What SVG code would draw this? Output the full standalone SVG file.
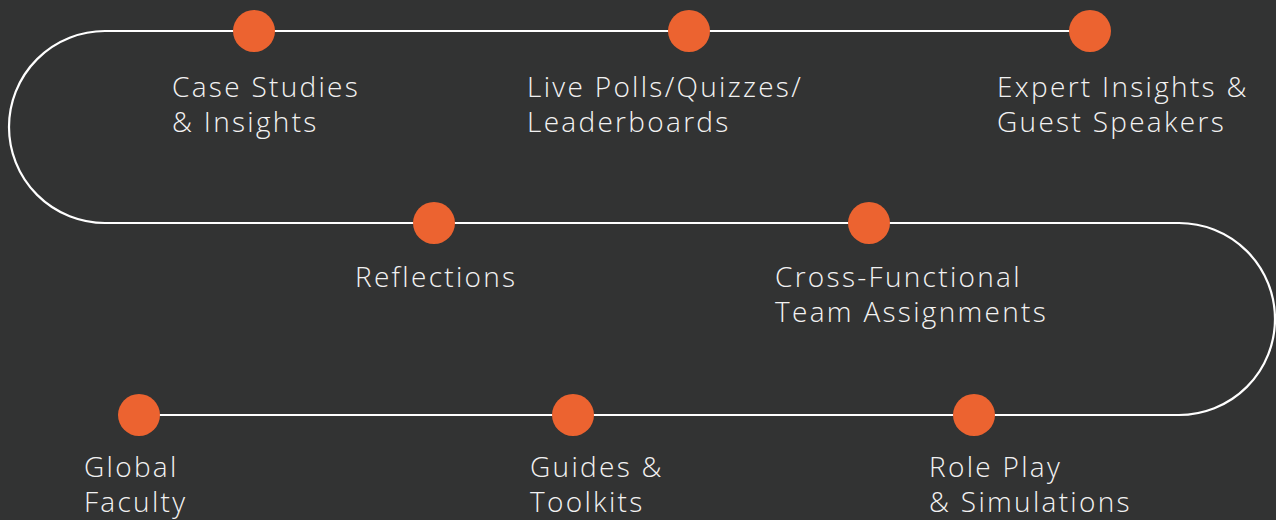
<svg xmlns="http://www.w3.org/2000/svg" width="1276" height="520" viewBox="0 0 1276 520">
<style>
.bg{fill:#323333}
.track{fill:none;stroke:#ffffff;stroke-width:2.2}
.dot{fill:#EC6330}
.lbl{fill:#F2F2F2;font-family:"Open Sans","Liberation Sans",sans-serif;font-weight:300;font-size:28px;letter-spacing:2.3px}
</style>
<rect class="bg" x="0" y="0" width="1276" height="520"/>
<g id="connectors">
<path class="track" d="M1090,31 H105 A96,96 0 0 0 105,223 H1179 A96,96 0 0 1 1179,415 H139"/>
</g>
<g id="node-case-studies"><circle class="dot" cx="254" cy="31" r="21"/><text class="lbl" x="172" y="97">Case Studies</text><text class="lbl" x="172" y="132">&amp; Insights</text></g>
<g id="node-live-polls"><circle class="dot" cx="689" cy="31" r="21"/><text class="lbl" x="527" y="97">Live Polls/Quizzes/</text><text class="lbl" x="527" y="132">Leaderboards</text></g>
<g id="node-expert-insights"><circle class="dot" cx="1090" cy="31" r="21"/><text class="lbl" x="997" y="97">Expert Insights &amp;</text><text class="lbl" x="997" y="132">Guest Speakers</text></g>
<g id="node-reflections"><circle class="dot" cx="434" cy="223" r="21"/><text class="lbl" x="355" y="287">Reflections</text></g>
<g id="node-cross-functional"><circle class="dot" cx="869" cy="223" r="21"/><text class="lbl" x="775" y="287">Cross-Functional</text><text class="lbl" x="775" y="322">Team Assignments</text></g>
<g id="node-global-faculty"><circle class="dot" cx="139" cy="415" r="21"/><text class="lbl" x="84" y="477">Global</text><text class="lbl" x="84" y="512">Faculty</text></g>
<g id="node-guides"><circle class="dot" cx="573" cy="415" r="21"/><text class="lbl" x="530" y="477">Guides &amp;</text><text class="lbl" x="530" y="512">Toolkits</text></g>
<g id="node-role-play"><circle class="dot" cx="974" cy="415" r="21"/><text class="lbl" x="929" y="477">Role Play</text><text class="lbl" x="929" y="512">&amp; Simulations</text></g>
</svg>
